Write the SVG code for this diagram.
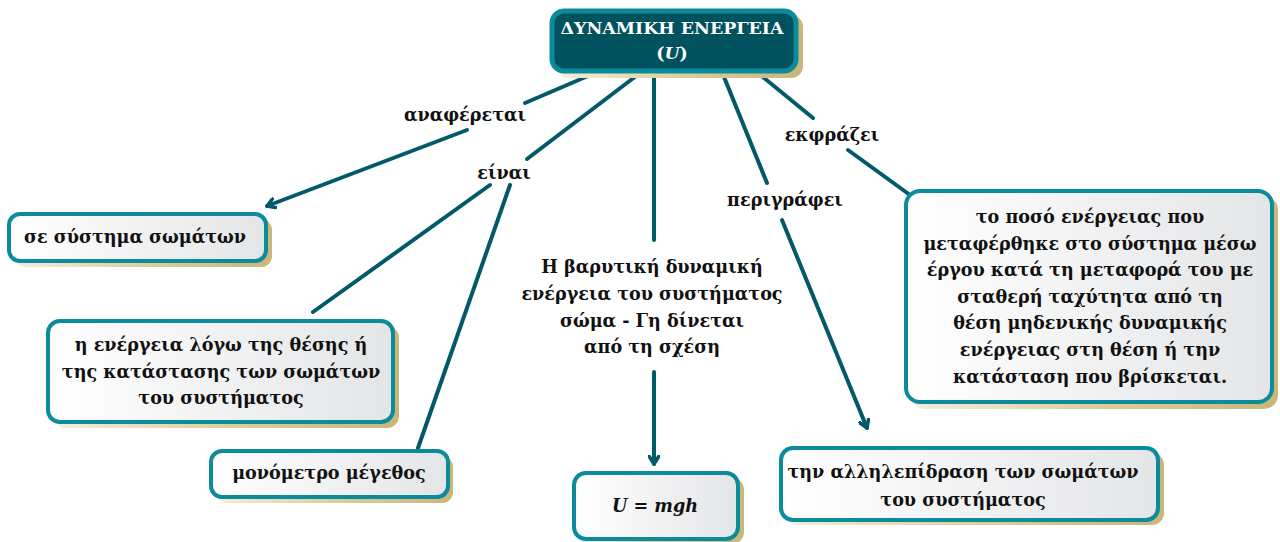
<svg xmlns="http://www.w3.org/2000/svg" width="1280" height="542" viewBox="0 0 1280 542">
<defs>
<linearGradient id="boxfill" x1="0" y1="0" x2="1" y2="0">
<stop offset="0" stop-color="#FFFFFF"/>
<stop offset="1" stop-color="#E4E5E7"/>
</linearGradient>
<linearGradient id="shadow" x1="0" y1="0" x2="1" y2="0">
<stop offset="0" stop-color="#F3EEDC"/>
<stop offset="0.5" stop-color="#DCCF9E"/>
<stop offset="1" stop-color="#C9B679"/>
</linearGradient>
<marker id="arr" markerWidth="12" markerHeight="12" refX="9" refY="6" orient="auto" markerUnits="userSpaceOnUse" viewBox="0 0 12 12">
<path d="M1,1 L9,6 L1,11" fill="none" stroke="#02596A" stroke-width="3.5" stroke-linecap="round" stroke-linejoin="round"/>
</marker>
</defs>
<style>
.sh{fill:url(#shadow);}
.box{fill:url(#boxfill);stroke:#0C8B9D;stroke-width:4;}
.t{font-family:"DejaVu Serif","Liberation Serif",serif;font-weight:bold;font-size:17.6px;fill:#111;text-anchor:middle;}
.lbl{font-family:"DejaVu Serif","Liberation Serif",serif;font-weight:bold;font-size:17.6px;fill:#111;text-anchor:middle;}
.ttl{font-family:"DejaVu Serif","Liberation Serif",serif;font-weight:bold;font-size:17.4px;fill:#FFFFFF;text-anchor:middle;}
.c{fill:none;stroke:#02596A;stroke-width:4;stroke-linecap:round;}
</style>

<g id="connectors">
<line class="c" x1="595" y1="73" x2="525" y2="103"/>
<line class="c" x1="467" y1="130" x2="267" y2="206" marker-end="url(#arr)"/>
<line class="c" x1="640" y1="73" x2="527" y2="159"/>
<line class="c" x1="490" y1="185" x2="313" y2="312"/>
<line class="c" x1="510" y1="185" x2="418" y2="448"/>
<line class="c" x1="654" y1="73" x2="654" y2="240"/>
<line class="c" x1="654" y1="372" x2="654" y2="464" marker-end="url(#arr)"/>
<line class="c" x1="722" y1="72" x2="767" y2="183"/>
<line class="c" x1="782" y1="220" x2="867" y2="428" marker-end="url(#arr)"/>
<line class="c" x1="758" y1="73" x2="813" y2="118"/>
<line class="c" x1="848" y1="150" x2="910" y2="195"/>
</g>

<g id="labels">
<text class="lbl" x="465" y="121">αναφέρεται</text>
<text class="lbl" x="504" y="179">είναι</text>
<text class="lbl" x="785" y="206">περιγράφει</text>
<text class="lbl" x="832" y="141">εκφράζει</text>
</g>

<g id="node-top">
<rect class="sh" x="557" y="15" width="246" height="63" rx="12"/>
<rect x="552" y="11" width="244" height="60" rx="12" fill="#00525F" stroke="#0C8B9D" stroke-width="5"/>
<text class="ttl" x="672" y="34">ΔΥΝΑΜΙΚΗ ΕΝΕΡΓΕΙΑ</text>
<text class="ttl" x="672" y="59">(<tspan font-style="italic">U</tspan>)</text>
</g>

<g id="node-systima">
<rect class="sh" x="14" y="219" width="258" height="48" rx="11"/>
<rect class="box" x="9" y="214" width="257" height="47" rx="11"/>
<text class="t" x="135" y="243">σε σύστημα σωμάτων</text>
</g>

<g id="node-energeia">
<rect class="sh" x="54" y="326" width="345" height="102" rx="12"/>
<rect class="box" x="48" y="321" width="345" height="101" rx="12"/>
<text class="t" x="221" y="351">η ενέργεια λόγω της θέσης ή</text>
<text class="t" x="221" y="378">της κατάστασης των σωμάτων</text>
<text class="t" x="221" y="404">του συστήματος</text>
</g>

<g id="node-monometro">
<rect class="sh" x="216" y="456" width="237" height="47" rx="11"/>
<rect class="box" x="211" y="451" width="237" height="46" rx="11"/>
<text class="t" x="329" y="479">μονόμετρο μέγεθος</text>
</g>

<g id="node-formula-text">
<text class="t" x="652" y="273">Η βαρυτική δυναμική</text>
<text class="t" x="652" y="300">ενέργεια του συστήματος</text>
<text class="t" x="652" y="327">σώμα - Γη δίνεται</text>
<text class="t" x="652" y="353">από τη σχέση</text>
</g>

<g id="node-formula">
<rect class="sh" x="579" y="478" width="165" height="66" rx="12"/>
<rect class="box" x="574" y="473" width="164" height="66" rx="12"/>
<text class="t" x="655" y="512" font-style="italic">U = mgh</text>
</g>

<g id="node-allilepidrasi">
<rect class="sh" x="786" y="453" width="378" height="72" rx="12"/>
<rect class="box" x="781" y="448" width="377" height="72" rx="12"/>
<text class="t" x="963" y="478">την αλληλεπίδραση των σωμάτων</text>
<text class="t" x="963" y="506">του συστήματος</text>
</g>

<g id="node-poso">
<rect class="sh" x="911" y="196" width="367" height="213" rx="14"/>
<rect class="box" x="906" y="191" width="366" height="211" rx="14"/>
<text class="t" x="1090" y="223">το ποσό ενέργειας που</text>
<text class="t" x="1090" y="250">μεταφέρθηκε στο σύστημα μέσω</text>
<text class="t" x="1090" y="276">έργου κατά τη μεταφορά του με</text>
<text class="t" x="1090" y="303">σταθερή ταχύτητα από τη</text>
<text class="t" x="1090" y="329">θέση μηδενικής δυναμικής</text>
<text class="t" x="1090" y="356">ενέργειας στη θέση ή την</text>
<text class="t" x="1090" y="383">κατάσταση που βρίσκεται.</text>
</g>
</svg>
